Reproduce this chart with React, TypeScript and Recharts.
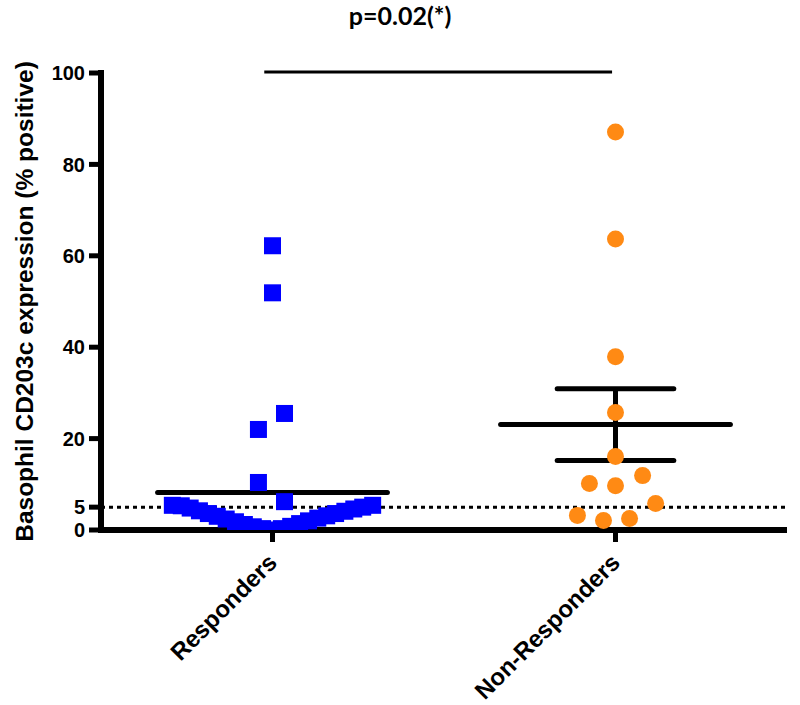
import React from "react";
import { ScatterChart, Scatter, XAxis, YAxis, ReferenceLine } from "recharts";

// categories on the x axis (0 = Responders, 1 = Non-Responders)
const categories = ["Responders", "Non-Responders"];
const yTicks = [0, 5, 20, 40, 60, 80, 100];
const yLabel = "Basophil CD203c expression (% positive)";
const pValueLabel = "p=0.02(*)";

// % positive
const respondersValues = [
  62.2, 51.9, 25.5, 22.0, 10.4, 6.2,
  5.4, 5.3, 4.8, 4.2, 3.6, 3.0, 2.4, 1.8, 1.2, 0.7, 0.3, 0.0,
  0.3, 0.8, 1.4, 2.0, 2.6, 3.1, 3.6, 4.1, 4.6, 5.0, 5.4,
];
// horizontal scatter offset of each point inside its column
const respondersJitter = [
  0, 0, 0.035, -0.041, -0.041, 0.035,
  -0.292, -0.266, -0.24, -0.213, -0.187, -0.161, -0.135, -0.108, -0.082, -0.056, -0.029, 0,
  0.026, 0.053, 0.079, 0.105, 0.132, 0.158, 0.184, 0.211, 0.237, 0.263, 0.292,
];

const nonRespondersValues = [87.1, 63.7, 37.9, 25.7, 16.1, 10.2, 9.7, 11.9, 5.8, 3.2, 2.1, 2.5];
const nonRespondersJitter = [0, 0, 0, 0, 0, -0.076, 0, 0.079, 0.117, -0.111, -0.035, 0.041];

const groupMeans = [8.2, 23.1];
const nonRespondersSem = [15.2, 30.9];
const threshold = 5;
const significanceLevel = 100.2;

const respondersData = respondersValues.map((v, i) => ({ x: 0 + respondersJitter[i], y: v }));
const nonRespondersData = nonRespondersValues.map((v, i) => ({ x: 1 + nonRespondersJitter[i], y: v }));

const MEAN_HALF = 0.335;
const SEM_HALF = 0.17;

const FONT = "'Liberation Sans', Arial, sans-serif";

const SquareDot = (props: any) => (
  <rect x={props.cx - 8.5} y={props.cy - 8.5} width={17} height={17} fill="#0000FF" />
);

const RoundDot = (props: any) => <circle cx={props.cx} cy={props.cy} r={8.5} fill="#FF8A14" />;

const CategoryTick = (props: any) => {
  const { x, y, payload } = props;
  return (
    <g transform={`translate(${x + 6},${y + 20})`}>
      <text
        x={0}
        y={0}
        textAnchor="end"
        transform="rotate(-45)"
        fill="#000"
        style={{ fontFamily: FONT, fontWeight: "bold", fontSize: 24 }}
      >
        {categories[payload.value]}
      </text>
    </g>
  );
};

const YAxisTitle = (props: any) => {
  const vb = props.viewBox;
  const cx = vb.x + 24;
  const cy = vb.y + vb.height / 2;
  return (
    <text
      x={cx}
      y={cy}
      transform={`rotate(-90 ${cx} ${cy})`}
      textAnchor="middle"
      dominantBaseline="central"
      fill="#000"
      style={{ fontFamily: FONT, fontWeight: "bold", fontSize: 24.5 }}
    >
      {yLabel}
    </text>
  );
};

export default function App() {
  return (
    <div style={{ position: "absolute", left: 0, top: 0, width: 800, height: 705, background: "#fff" }}>
      <div
        style={{
          position: "absolute",
          left: 0,
          top: 0,
          width: 800,
          textAlign: "center",
          fontFamily: "Lato, sans-serif",
          fontWeight: "bold",
          fontSize: 25,
          color: "#000",
        }}
      >
        {pValueLabel}
      </div>
      <ScatterChart width={800} height={705} margin={{ top: 73, right: 13, bottom: 0, left: 0 }}>
        <XAxis
          type="number"
          dataKey="x"
          domain={[-0.5, 1.5]}
          ticks={[0, 1]}
          interval={0}
          height={175}
          tickSize={12}
          tickMargin={2}
          axisLine={false}
          tickLine={{ stroke: "#000", strokeWidth: 5 }}
          tick={<CategoryTick />}
          allowDataOverflow
        />
        <YAxis
          type="number"
          dataKey="y"
          domain={[0, 100]}
          ticks={yTicks}
          interval={0}
          width={101}
          tickSize={12}
          tickMargin={4}
          axisLine={{ stroke: "#000", strokeWidth: 6, strokeLinecap: "square" }}
          tickLine={{ stroke: "#000", strokeWidth: 5 }}
          tick={{ fill: "#000", fontFamily: FONT, fontWeight: "bold", fontSize: 20 }}
          label={<YAxisTitle />}
          allowDataOverflow
        />
        <ReferenceLine y={0} stroke="#000" strokeWidth={6} />
        <ReferenceLine y={threshold} stroke="#000" strokeWidth={3} strokeDasharray="4 4" />
        <Scatter data={respondersData} shape={<SquareDot />} isAnimationActive={false} />
        <Scatter data={nonRespondersData} shape={<RoundDot />} isAnimationActive={false} />
        {groupMeans.map((m, i) => (
          <ReferenceLine
            key={`mean-${i}`}
            segment={[
              { x: i - MEAN_HALF, y: m },
              { x: i + MEAN_HALF, y: m },
            ]}
            stroke="#000"
            strokeWidth={5}
            strokeLinecap="round"
          />
        ))}
        {nonRespondersSem.map((s, i) => (
          <ReferenceLine
            key={`sem-${i}`}
            segment={[
              { x: 1 - SEM_HALF, y: s },
              { x: 1 + SEM_HALF, y: s },
            ]}
            stroke="#000"
            strokeWidth={5}
            strokeLinecap="round"
          />
        ))}
        <ReferenceLine
          segment={[
            { x: 1, y: nonRespondersSem[0] },
            { x: 1, y: nonRespondersSem[1] },
          ]}
          stroke="#000"
          strokeWidth={5}
        />
        <ReferenceLine
          segment={[
            { x: -0.024, y: significanceLevel },
            { x: 0.99, y: significanceLevel },
          ]}
          stroke="#000"
          strokeWidth={3}
          ifOverflow="visible"
        />
      </ScatterChart>
    </div>
  );
}
